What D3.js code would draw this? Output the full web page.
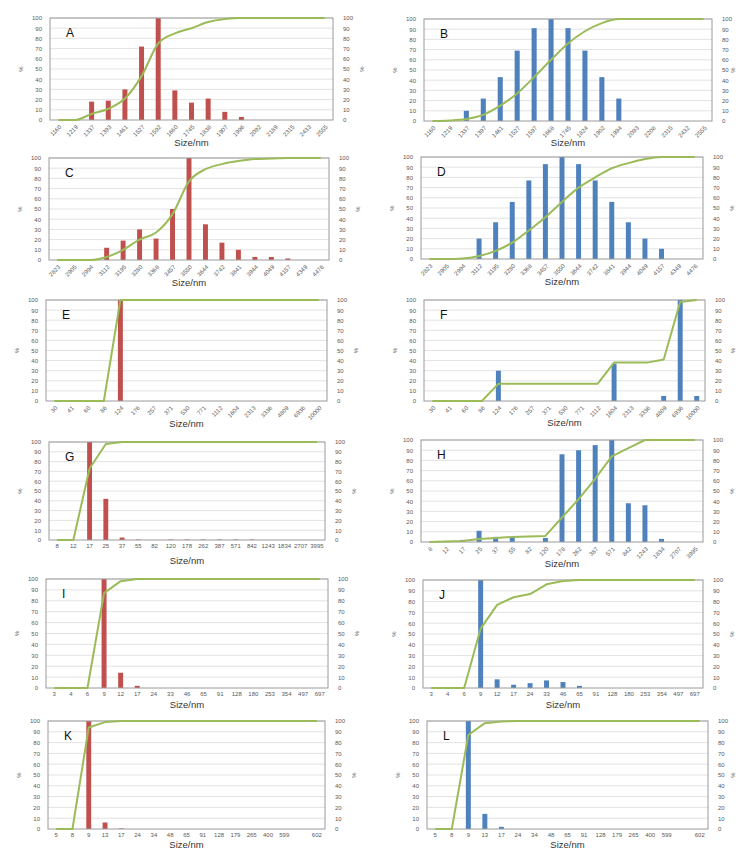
<!DOCTYPE html>
<html>
<head>
<meta charset="utf-8">
<script src="https://cdn.jsdelivr.net/npm/d3@7/dist/d3.min.js"></script>
<style>
  html, body { margin: 0; padding: 0; background: #fff; }
  svg { display: block; }
</style>
</head>
<body>
<svg id="chart" width="740" height="851"></svg>
<script>
// Size categories (nm) shared by the paired panels
const sizesA = ["1160","1219","1337","1393","1461","1527","1592","1660","1745","1838","1907","1996","2092","2189","2315","2433","2555"];
const sizesB = ["1160","1219","1337","1397","1461","1527","1597","1668","1745","1824","1902","1994","2093","2208","2315","2432","2555"];
const sizesCD = ["2823","2905","2994","3112","3195","3280","3368","3457","3550","3644","3742","3841","3944","4049","4157","4349","4476"];
const sizesEF = ["30","41","60","86","124","176","257","371","530","771","1112","1604","2313","3336","4809","6936","10000"];
const sizesGH = ["8","12","17","25","37","55","82","120","178","262","387","571","842","1243","1834","2707","3995"];
const sizesIJ = ["3","4","6","9","12","17","24","33","46","65","91","128","180","253","354","497","697"];
const sizesKL = ["5","8","9","13","17","24","34","48","65","91","128","179","265","400","599","","602"];

// Relative frequency (%) per size class
const barsA = [0,0,18,19,30,72,100,29,17,21,8,3,0,0,0,0,0];
const barsB = [0,0,10,22,43,69,91,100,91,69,43,22,0,0,0,0,0];
const barsC = [0,0,0,12,19,30,21,50,100,35,17,10,3,3,1.5,0,0];
const barsD = [0,0,0,20,36,56,77,93,100,93,77,56,36,20,10,0,0];
const barsE = [0,0,0,0,100,0,0,0,0,0,0,0,0,0,0,0,0];
const barsF = [0,0,0,0,30,0,0,0,0,0,0,37,0,0,5,100,5];
const barsG = [0,0,100,42,2.5,0.5,0,0.5,0.5,0.5,0.5,0.5,0.5,0,0,0,0];
const barsH = [0,0,2,11,5,5,0,4,86,90,95,100,38,36,3,0,0];
const barsI = [0,0,0,100,14,2,0,0,0,0,0,0,0,0,0,0,0];
const barsJ = [0,0,0,100,8,3,4.5,7,5.5,2,0,0,0,0,0,0,0];
const barsK = [0,0,100,6,0.5,0,0,0,0,0,0,0,0,0,0,0,0];
const barsL = [0,0,100,14,2,0,0,0,0,0,0,0,0,0,0,0,0];

// Cumulative distribution (%) per size class
const cumA = [0,0,6,11,21,43,75,85,90,96,99,100,100,100,100,100,100];
const cumB = [0,0.5,2,6,15,27,43,60,76,88,96,100,100,100,100,100,100];
const cumC = [0,0,0,3,10,20,27,45,77,89,94,97,99,99.5,100,100,100];
const cumD = [0,0,0.5,3,8,16,28,41,56,70,80,89,94,98,100,100,100];
const cumE = [0,0,0,0,100,100,100,100,100,100,100,100,100,100,100,100,100];
const cumF = [0,0,0,0,17,17,17,17,17,17,17,38,38,38,41,98,100];
const cumG = [0,0,73,98,100,100,100,100,100,100,100,100,100,100,100,100,100];
const cumH = [0,0.5,1,3,4,5,5.5,6,24,42,62,84,92,100,100,100,100];
const cumI = [0,0,0,87,98,100,100,100,100,100,100,100,100,100,100,100,100];
const cumJ = [0,0,0,55,77,84,87,96,99,100,100,100,100,100,100,100,100];
const cumK = [0,0,94,99,100,100,100,100,100,100,100,100,100,100,100,100,100];
const cumL = [0,0,87,98,99.5,100,100,100,100,100,100,100,100,100,100,100,100];

const yTicks = d3.range(0, 101, 10);

const RED = "#c0504d", BLUE = "#4f81bd", GREEN = "#9bbb59";

// Panel frames: plot-area box, bar colour, label style
const panels = [
  {id:"A", sizes:sizesA, bars:barsA, cum:cumA, color:RED,  x0:50,  x1:333, y0:18,  y1:120, rot:true,  smooth:true,  tY:26},
  {id:"B", sizes:sizesB, bars:barsB, cum:cumB, color:BLUE, x0:424, x1:712, y0:19,  y1:121, rot:true,  smooth:true,  tY:25},
  {id:"C", sizes:sizesCD, bars:barsC, cum:cumC, color:RED,  x0:49,  x1:329, y0:158, y1:260, rot:true,  smooth:true,  tY:26},
  {id:"D", sizes:sizesCD, bars:barsD, cum:cumD, color:BLUE, x0:421, x1:703, y0:157, y1:259, rot:true,  smooth:true,  tY:26},
  {id:"E", sizes:sizesEF, bars:barsE, cum:cumE, color:RED,  x0:46,  x1:327, y0:300, y1:401, rot:true,  smooth:false, tY:26},
  {id:"F", sizes:sizesEF, bars:barsF, cum:cumF, color:BLUE, x0:424, x1:705, y0:300, y1:401, rot:true,  smooth:false, tY:25},
  {id:"G", sizes:sizesGH, bars:barsG, cum:cumG, color:RED,  x0:49,  x1:325, y0:442, y1:540, rot:false, smooth:false, tY:24},
  {id:"H", sizes:sizesGH, bars:barsH, cum:cumH, color:BLUE, x0:421, x1:703, y0:440, y1:542, rot:true,  smooth:false, tY:25},
  {id:"I", sizes:sizesIJ, bars:barsI, cum:cumI, color:RED,  x0:46,  x1:328, y0:579, y1:688, rot:false, smooth:false, tY:20},
  {id:"J", sizes:sizesIJ, bars:barsJ, cum:cumJ, color:BLUE, x0:423, x1:703, y0:580, y1:688, rot:false, smooth:false, tY:20},
  {id:"K", sizes:sizesKL, bars:barsK, cum:cumK, color:RED,  x0:48,  x1:325, y0:721, y1:829, rot:false, smooth:false, tY:19},
  {id:"L", sizes:sizesKL, bars:barsL, cum:cumL, color:BLUE, x0:427, x1:708, y0:721, y1:829, rot:false, smooth:false, tY:19}
];

const svg = d3.select("#chart");
const tickFont = "Liberation Sans, Arial, sans-serif";

panels.forEach(p => {
  const g = svg.append("g").attr("class", "panel panel-" + p.id);
  const idx = p.sizes.map((_, i) => i);
  const x = d3.scaleBand().domain(idx).range([p.x0, p.x1]).padding(0);
  const y = d3.scaleLinear().domain([0, 100]).range([p.y1, p.y0]);

  // horizontal gridlines
  g.append("g").selectAll("line").data(yTicks.slice(1)).join("line")
    .attr("x1", p.x0).attr("x2", p.x1)
    .attr("y1", d => y(d)).attr("y2", d => y(d))
    .attr("stroke", "#e3e3e3").attr("stroke-width", 1);

  // left and right percentage axes
  const left = g.append("g").attr("transform", `translate(${p.x0},0)`)
    .call(d3.axisLeft(y).tickValues(yTicks).tickSize(0).tickPadding(8));
  const right = g.append("g").attr("transform", `translate(${p.x1},0)`)
    .call(d3.axisRight(y).tickValues(yTicks).tickSize(0).tickPadding(10));
  [left, right].forEach(ax => {
    ax.select(".domain").remove();
    ax.selectAll("text").attr("font-family", tickFont).attr("font-size", 6).attr("fill", "#595959");
  });

  // size-class axis
  const xa = g.append("g").attr("transform", `translate(0,${p.y1})`)
    .call(d3.axisBottom(x).tickSize(0).tickPadding(0).tickFormat(i => p.sizes[i]));
  xa.select(".domain").remove();
  xa.selectAll("text").attr("font-family", tickFont).attr("font-size", 6).attr("fill", "#595959");
  if (p.rot) {
    xa.selectAll("text")
      .attr("text-anchor", "end")
      .attr("dy", "0.35em")
      .attr("transform", "translate(2,6) rotate(-45)");
  } else {
    xa.selectAll("text").attr("y", 4).attr("dy", "0.71em");
  }

  // bars
  const bw = x.bandwidth() * 0.3;
  g.append("g").selectAll("rect").data(p.bars.map((v, i) => ({i, v})).filter(d => d.v > 0)).join("rect")
    .attr("x", d => x(d.i) + (x.bandwidth() - bw) / 2)
    .attr("width", bw)
    .attr("y", d => y(d.v))
    .attr("height", d => y(0) - y(d.v))
    .attr("fill", p.color);

  // plot-area frame
  g.append("rect")
    .attr("x", p.x0).attr("y", p.y0)
    .attr("width", p.x1 - p.x0).attr("height", p.y1 - p.y0)
    .attr("fill", "none").attr("stroke", "#9a9a9a").attr("stroke-width", 1);

  // cumulative curve
  const line = d3.line()
    .x((d, i) => x(i) + x.bandwidth() / 2)
    .y(d => y(d))
    .curve(p.smooth ? d3.curveMonotoneX : d3.curveLinear);
  g.append("path").datum(p.cum)
    .attr("d", line)
    .attr("fill", "none").attr("stroke", GREEN).attr("stroke-width", 2)
    .attr("stroke-linejoin", "round");

  // panel letter
  g.append("text").attr("x", p.x0 + 16).attr("y", p.y0 + 19)
    .attr("font-family", "Liberation Sans, Arial, sans-serif").attr("font-size", 12)
    .attr("fill", "#111").text(p.id);

  // axis titles
  const ym = (p.y0 + p.y1) / 2;
  g.append("text").attr("transform", `translate(${p.x0 - 27},${ym}) rotate(-90)`)
    .attr("text-anchor", "middle").attr("font-family", tickFont).attr("font-size", 6)
    .attr("fill", "#595959").text("%");
  g.append("text").attr("transform", `translate(${Math.min(p.x1 + 31, 735)},${ym}) rotate(-90)`)
    .attr("text-anchor", "middle").attr("font-family", tickFont).attr("font-size", 6)
    .attr("fill", "#595959").text("%");
  g.append("text").attr("x", (p.x0 + p.x1) / 2).attr("y", p.y1 + p.tY)
    .attr("text-anchor", "middle").attr("font-family", tickFont).attr("font-size", 9.5)
    .attr("fill", "#333").text("Size/nm");
});
</script>
</body>
</html>
